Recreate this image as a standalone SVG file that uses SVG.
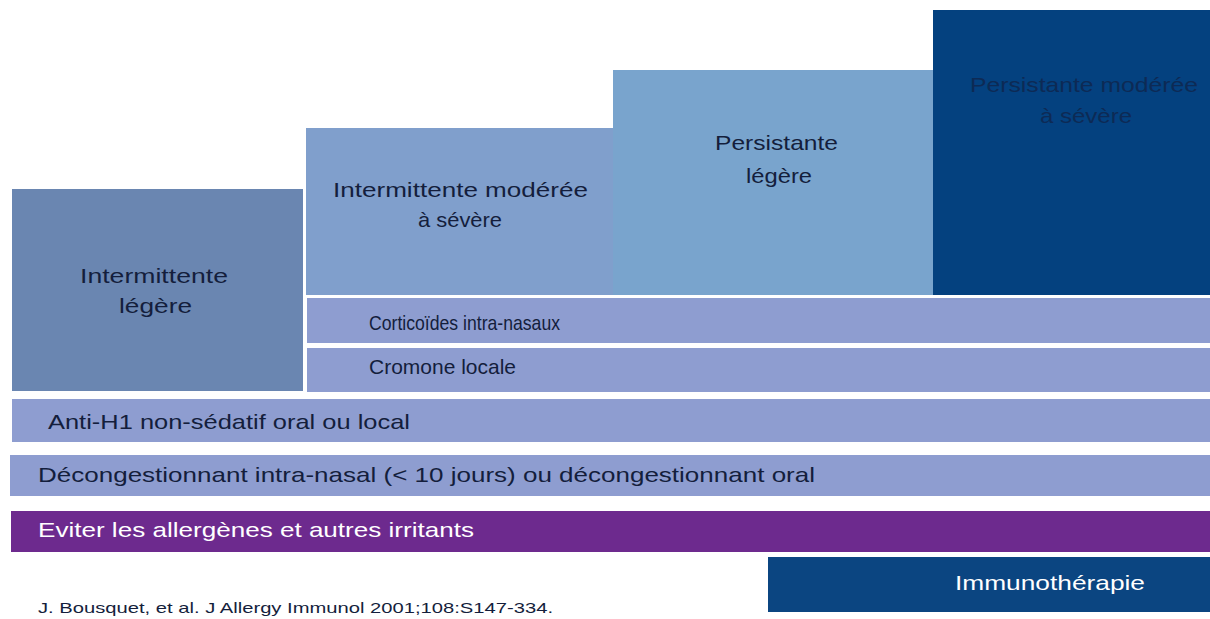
<svg xmlns="http://www.w3.org/2000/svg" width="1210" height="619" viewBox="0 0 1210 619">
<style>
.t{font-family:"Liberation Sans Narrow","Liberation Sans","Open Sans",Arial,sans-serif;font-size:21px;fill:#141e3c}
.w{fill:#ffffff}
.bar{fill:#8e9dd0}
</style>
<rect width="1210" height="619" fill="#ffffff"/>
<g id="intermittente-legere">
<rect x="12" y="189" width="291" height="202" fill="#6a86b1"/>
<text class="t" x="80" y="283" textLength="148" lengthAdjust="spacingAndGlyphs">Intermittente</text>
<text class="t" x="119" y="313" textLength="73" lengthAdjust="spacingAndGlyphs">légère</text>
</g>
<g id="intermittente-moderee">
<rect x="306" y="128" width="308" height="167" fill="#809fcc"/>
<text class="t" x="333" y="197" textLength="255" lengthAdjust="spacingAndGlyphs">Intermittente modérée</text>
<text class="t" x="418" y="227" textLength="84" lengthAdjust="spacingAndGlyphs">à sévère</text>
</g>
<g id="persistante-legere">
<rect x="613" y="70" width="320" height="225" fill="#79a4cd"/>
<text class="t" x="715" y="150" textLength="123" lengthAdjust="spacingAndGlyphs">Persistante</text>
<text class="t" x="746" y="183" textLength="66" lengthAdjust="spacingAndGlyphs">légère</text>
</g>
<g id="persistante-moderee">
<rect x="933" y="10" width="277" height="285" fill="#04417f"/>
<text class="t" x="970" y="92" textLength="228" lengthAdjust="spacingAndGlyphs" style="fill:#0d2a55">Persistante modérée</text>
<text class="t" x="1040" y="123" textLength="92" lengthAdjust="spacingAndGlyphs" style="fill:#0d2a55">à sévère</text>
</g>
<g id="corticoides">
<rect class="bar" x="307" y="298" width="903" height="45"/>
<text class="t" x="369" y="330" textLength="191" lengthAdjust="spacingAndGlyphs">Corticoïdes intra-nasaux</text>
</g>
<g id="cromone">
<rect class="bar" x="307" y="348" width="903" height="44"/>
<text class="t" x="369" y="374" textLength="147" lengthAdjust="spacingAndGlyphs">Cromone locale</text>
</g>
<g id="anti-h1">
<rect class="bar" x="12" y="399" width="1198" height="43"/>
<text class="t" x="48" y="429" textLength="362" lengthAdjust="spacingAndGlyphs">Anti-H1 non-sédatif oral ou local</text>
</g>
<g id="decongestionnant">
<rect class="bar" x="10" y="455" width="1200" height="41"/>
<text class="t" x="38" y="482" textLength="777" lengthAdjust="spacingAndGlyphs">Décongestionnant intra-nasal (&lt; 10 jours) ou décongestionnant oral</text>
</g>
<g id="eviter">
<rect x="11" y="511" width="1199" height="41" fill="#6d2a8e"/>
<text class="t w" x="38" y="537" textLength="436" lengthAdjust="spacingAndGlyphs">Eviter les allergènes et autres irritants</text>
</g>
<g id="immunotherapie">
<rect x="768" y="557" width="442" height="55" fill="#0b4581"/>
<text class="t w" x="955" y="590" textLength="190" lengthAdjust="spacingAndGlyphs">Immunothérapie</text>
</g>
<g id="connectors"/>
<text class="t" x="38" y="613" style="font-size:15px" textLength="515" lengthAdjust="spacingAndGlyphs">J. Bousquet, et al. J Allergy Immunol 2001;108:S147-334.</text>
</svg>
